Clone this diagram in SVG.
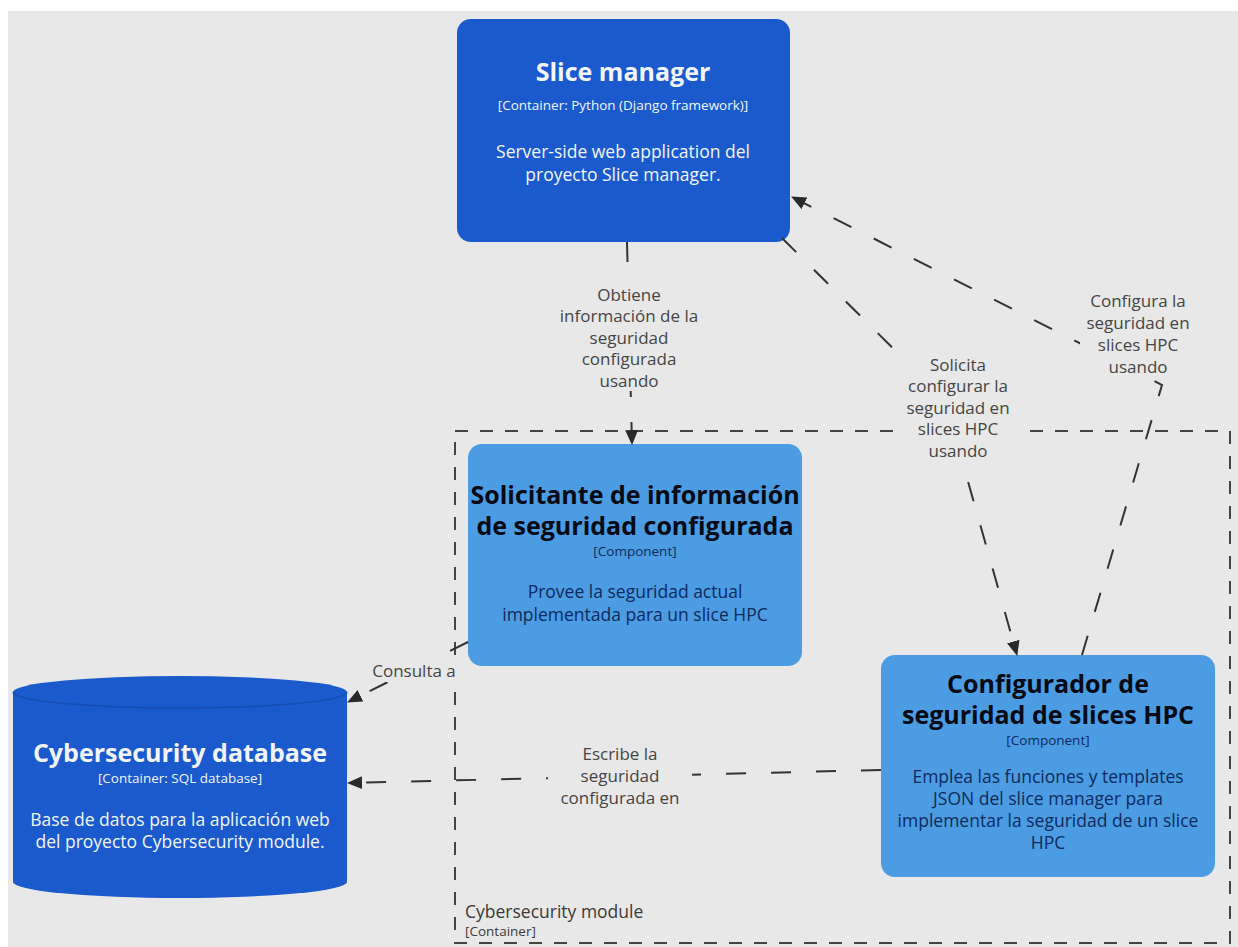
<svg xmlns="http://www.w3.org/2000/svg" width="1238" height="947" viewBox="0 0 1238 947">
  <style>
    text { font-family: "Open Sans", "Noto Sans", "DejaVu Sans", sans-serif; text-anchor: middle; }
    .title { font-size: 25px; font-weight: bold; }
    .tech { font-size: 13.5px; }
    .desc { font-size: 17.5px; }
    .on-dark { fill: #f2f5fb; }
    .on-light-title { fill: #050a14; }
    .on-light { fill: #0f2a5c; }
    .container { fill: #1a5acd; }
    .component { fill: #4b9ce2; }
    .rel { fill: none; stroke: #333333; stroke-width: 2; stroke-dasharray: 20 25; }
    .rel-label { font-size: 17px; fill: #454545; }
    .label-bg { fill: #e8e8e8; }
    .boundary { fill: none; stroke: #444444; stroke-width: 2; stroke-dasharray: 13 12; }
    .boundary-name { font-size: 17.5px; fill: #3a3a3a; text-anchor: start; }
    .boundary-type { font-size: 13.5px; fill: #3a3a3a; text-anchor: start; }
  </style>
  <defs>
    <marker id="arrow" markerUnits="userSpaceOnUse" markerWidth="15" markerHeight="13" refX="14" refY="6.5" orient="auto">
      <path d="M0,0 L15,6.5 L0,13 Z" fill="#2a2a2a"/>
    </marker>
  </defs>

  <!-- canvas -->
  <rect x="0" y="0" width="1238" height="947" fill="#ffffff"/>
  <rect x="8" y="11" width="1230" height="936" fill="#e8e8e8"/>

  <!-- container boundary -->
  <g id="cybersecurity-module">
    <rect class="boundary" x="455" y="431" width="775" height="512"/>
    <text class="boundary-name" x="465" y="918">Cybersecurity module</text>
    <text class="boundary-type" x="465" y="936">[Container]</text>
  </g>

  <!-- nodes -->
  <g id="slice-manager">
    <rect class="container" x="457" y="19" width="333" height="223" rx="14"/>
    <text class="title on-dark" x="623" y="81">Slice manager</text>
    <text class="tech on-dark" x="623" y="110">[Container: Python (Django framework)]</text>
    <text class="desc on-dark" x="623" y="158">Server-side web application del</text>
    <text class="desc on-dark" x="623" y="181">proyecto Slice manager.</text>
  </g>

  <g id="solicitante">
    <rect class="component" x="468" y="444" width="334" height="222" rx="14"/>
    <text class="title on-light-title" x="635" y="504">Solicitante de información</text>
    <text class="title on-light-title" x="635" y="535">de seguridad configurada</text>
    <text class="tech on-light" x="635" y="556">[Component]</text>
    <text class="desc on-light" x="635" y="598">Provee la seguridad actual</text>
    <text class="desc on-light" x="635" y="621">implementada para un slice HPC</text>
  </g>

  <g id="configurador">
    <rect class="component" x="881" y="655" width="334" height="222" rx="14"/>
    <text class="title on-light-title" x="1048" y="693">Configurador de</text>
    <text class="title on-light-title" x="1048" y="724">seguridad de slices HPC</text>
    <text class="tech on-light" x="1048" y="745">[Component]</text>
    <text class="desc on-light" x="1048" y="783">Emplea las funciones y templates</text>
    <text class="desc on-light" x="1048" y="805">JSON del slice manager para</text>
    <text class="desc on-light" x="1048" y="827">implementar la seguridad de un slice</text>
    <text class="desc on-light" x="1048" y="849">HPC</text>
  </g>

  <g id="cybersecurity-database">
    <path class="container" d="M13,692 A167,16 0 0,1 347,692 L347,882 A167,16 0 0,1 13,882 Z"/>
    <path d="M13,692 A167,16 0 0,0 347,692" fill="none" stroke="#164db3" stroke-width="1.5"/>
    <text class="title on-dark" x="180" y="762">Cybersecurity database</text>
    <text class="tech on-dark" x="180" y="783">[Container: SQL database]</text>
    <text class="desc on-dark" x="180" y="826">Base de datos para la aplicación web</text>
    <text class="desc on-dark" x="180" y="848">del proyecto Cybersecurity module.</text>
  </g>

  <!-- relationships -->
  <g id="connectors">
    <path class="rel" d="M627,242 L632,444" marker-end="url(#arrow)"/>
    <path class="rel" d="M782,238 L945,400 L1017,655" marker-end="url(#arrow)"/>
    <path class="rel" d="M1082,655 L1162,385 L792,197" marker-end="url(#arrow)"/>
    <path class="rel" d="M468,642 L348,702" marker-end="url(#arrow)"/>
    <path class="rel" d="M881,770 L348,783" marker-end="url(#arrow)"/>

    <rect class="label-bg" x="554" y="284" width="150" height="107"/>
    <text class="rel-label" x="629" y="301">Obtiene</text>
    <text class="rel-label" x="629" y="322">información de la</text>
    <text class="rel-label" x="629" y="344">seguridad</text>
    <text class="rel-label" x="629" y="365">configurada</text>
    <text class="rel-label" x="629" y="387">usando</text>

    <rect class="label-bg" x="898" y="354" width="120" height="107"/>
    <text class="rel-label" x="958" y="371">Solicita</text>
    <text class="rel-label" x="958" y="392">configurar la</text>
    <text class="rel-label" x="958" y="414">seguridad en</text>
    <text class="rel-label" x="958" y="435">slices HPC</text>
    <text class="rel-label" x="958" y="457">usando</text>

    <rect class="label-bg" x="1080" y="290" width="116" height="86"/>
    <text class="rel-label" x="1138" y="307">Configura la</text>
    <text class="rel-label" x="1138" y="329">seguridad en</text>
    <text class="rel-label" x="1138" y="351">slices HPC</text>
    <text class="rel-label" x="1138" y="373">usando</text>

    <rect class="label-bg" x="367" y="660" width="94" height="22"/>
    <text class="rel-label" x="414" y="677">Consulta a</text>

    <rect class="label-bg" x="548" y="744" width="144" height="64"/>
    <text class="rel-label" x="620" y="760">Escribe la</text>
    <text class="rel-label" x="620" y="782">seguridad</text>
    <text class="rel-label" x="620" y="804">configurada en</text>
  </g>
</svg>
